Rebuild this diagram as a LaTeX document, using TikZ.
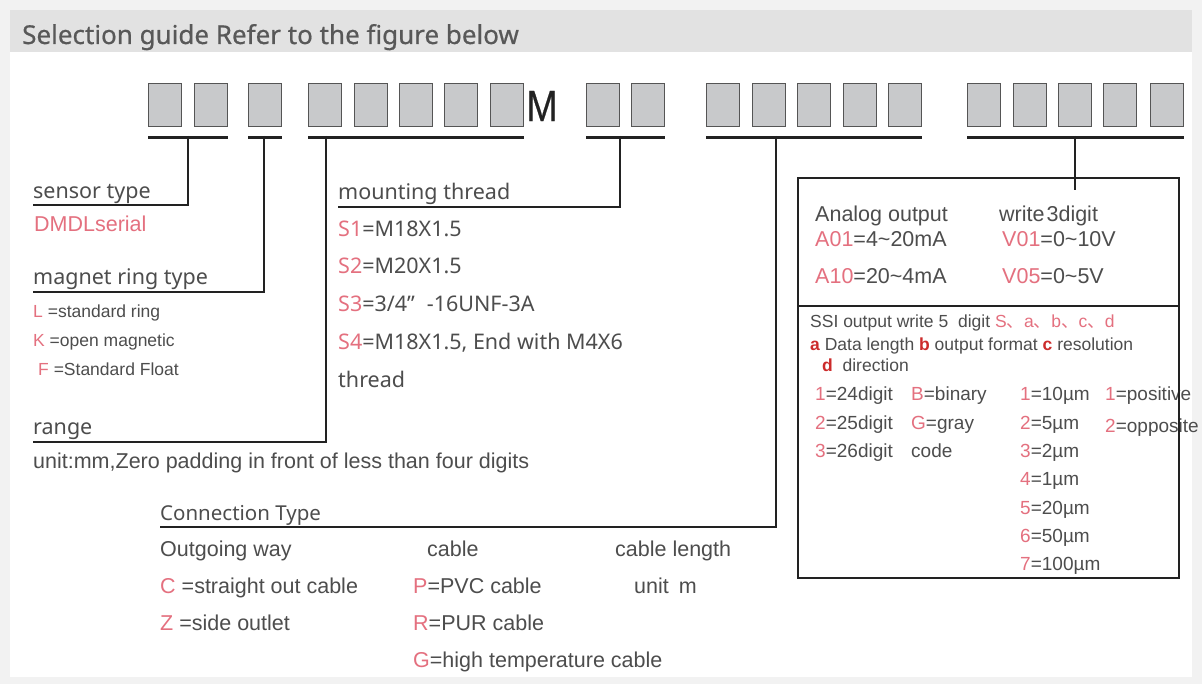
\documentclass[tikz,border=0pt]{standalone}
\usepackage{fontspec}
\setmainfont{Liberation Sans}
\newfontfamily\nfont{Noto Sans}
\newfontfamily\tfont[FakeBold=0.6]{Noto Sans}
\newfontfamily\mfont[FakeBold=0.5]{Liberation Sans}
\newfontfamily\cjkf{Noto Sans CJK SC}
\definecolor{txt}{HTML}{4D4D4D}
\definecolor{hdr}{HTML}{585858}
\definecolor{pk}{HTML}{E4707F}
\definecolor{rd}{HTML}{CC2B2B}
\definecolor{boxfill}{HTML}{C8C9CB}
\definecolor{boxline}{HTML}{555555}
\definecolor{ln}{HTML}{222222}
\definecolor{bandc}{HTML}{E2E2E2}
\definecolor{pagec}{HTML}{F2F2F2}
\begin{document}
\begin{tikzpicture}[x=1pt,y=-1pt,
  digit/.style={draw=boxline, fill=boxfill, line width=1.3pt, minimum width=33pt, minimum height=43pt, inner sep=0pt, anchor=north west},
  bar/.style={draw=ln, line width=2.6pt},
  wire/.style={draw=ln, line width=2.4pt},
  lab/.style={anchor=base west, inner sep=0pt, text=txt},
  ar/.style={lab, font=\fontsize{21.5}{24}\selectfont},
  arm/.style={lab, font=\fontsize{19}{22}\selectfont},
  ars/.style={lab, font=\fontsize{17.5}{20}\selectfont},
  ns/.style={lab, font=\nfont\fontsize{21.5}{24}\selectfont},
]
\useasboundingbox (0,0) rectangle (1202,684);
\fill[pagec] (0,0) rectangle (1202,684);
\fill[white] (10,52) rectangle (1192,677);
\fill[bandc] (10,10) rectangle (1192,52);
\node[lab, font=\tfont\fontsize{26}{28}\selectfont, text=hdr] (title) at (22,44) {Selection guide Refer to the figure below};

% code boxes
\foreach \n/\x in {1/148,2/194,3/248,4/308,5/353.5,6/399,7/444,8/490,9/586,10/631,11/706,12/751.5,13/797,14/842.5,15/888,16/967,17/1013,18/1058,19/1103,20/1150}
  \node[digit] (d\n) at (\x,83) {};
\node[inner sep=0pt, text=ln, font=\mfont\fontsize{44}{44}\selectfont] (M) at (542,106) {\scalebox{0.85}[1]{M}};

% underlines
\draw[bar] ([yshift=-10pt]d1.south west) -- ([yshift=-10pt]d2.south east);
\draw[bar] ([yshift=-10pt]d3.south west) -- ([yshift=-10pt]d3.south east);
\draw[bar] ([yshift=-10pt]d4.south west) -- ([yshift=-10pt]d8.south east);
\draw[bar] ([yshift=-10pt]d9.south west) -- ([yshift=-10pt]d10.south east);
\draw[bar] ([yshift=-10pt]d11.south west) -- ([yshift=-10pt]d15.south east);
\draw[bar] ([yshift=-10pt]d16.south west) -- ([yshift=-10pt]d20.south east);

% taps on the underlines
\coordinate (t1) at (188,136);
\coordinate (t2) at (264,136);
\coordinate (t3) at (326,136);
\coordinate (t4) at (620,136);
\coordinate (t5) at (776,136);
\coordinate (t6) at (1075,136);
\coordinate (t6e) at (1075,190);

% left column
\node[ns] (st) at (33,199) {sensor type};
\coordinate (st-ul) at (33,205);
\node[ar, text=pk] (dmdl) at (34,232) {DMDLserial};
\node[ns] (mr) at (33,285) {magnet ring type};
\coordinate (mr-ul) at (33,292);
\node[ars] (lL) at (33,318) {\textcolor{pk}{L} =standard ring};
\node[ars] (lK) at (33,347) {\textcolor{pk}{K} =open magnetic};
\node[ars] (lF) at (38,376) {\textcolor{pk}{F} =Standard Float};
\node[ns] (rg) at (33,435) {range};
\coordinate (rg-ul) at (33,442);
\node[ar] (unit) at (33,468) {unit:mm,Zero padding in front of less than four digits};

% middle column
\node[ns] (mt) at (338,200) {mounting thread};
\coordinate (mt-ul) at (338,207);
\node[ns] (s1) at (338,237) {\textcolor{pk}{S1}=M18X1.5};
\node[ns] (s2) at (338,274) {\textcolor{pk}{S2}=M20X1.5};
\node[ns] (s3) at (338,312) {\textcolor{pk}{S3}=3/4”\hspace{12pt}-16UNF-3A};
\node[ns] (s4) at (338,350) {\textcolor{pk}{S4}=M18X1.5, End with M4X6};
\node[ns] (s5) at (338,388) {thread};

% connection type
\node[ns, font=\nfont\fontsize{20.5}{24}\selectfont] (ct) at (160,520) {Connection Type};
\coordinate (ct-ul) at (160,527);
\node[ar] (ow) at (160,556) {Outgoing way};
\node[ar] (cb) at (427,556) {cable};
\node[ar] (cl) at (615,556) {cable length};
\node[ar] (oc) at (160,593) {\textcolor{pk}{C} =straight out cable};
\node[ar] (oz) at (160,630) {\textcolor{pk}{Z} =side outlet};
\node[ar] (cp) at (413,593) {\textcolor{pk}{P}=PVC cable};
\node[ar] (cr) at (413,630) {\textcolor{pk}{R}=PUR cable};
\node[ar] (cg) at (413,667) {\textcolor{pk}{G}=high temperature cable};
\node[ar] (um) at (634,593) {unit\hspace{10pt}m};

% right box texts
\node[ar] (ao) at (815,222) {Analog output};
\node[ar] (w3) at (999,222) {write\hspace{2pt}3digit};
\node[ar] (a01) at (815,247) {\textcolor{pk}{A01}=4\char`~20mA};
\node[ar] (v01) at (1002,247) {\textcolor{pk}{V01}=0\char`~10V};
\node[ar] (a10) at (815,284) {\textcolor{pk}{A10}=20\char`~4mA};
\node[ar] (v05) at (1002,284) {\textcolor{pk}{V05}=0\char`~5V};

\node[ars] (ssi) at (810,328) {SSI output write 5\ \ digit \textcolor{pk}{S{\cjkf 、}a{\cjkf 、}b{\cjkf 、}c{\cjkf 、}d}};
\node[ars] (abc) at (810,351) {\textcolor{rd}{\bfseries a} Data length \textcolor{rd}{\bfseries b} output format \textcolor{rd}{\bfseries c} resolution};
\node[ars] (dd) at (822,372) {\textcolor{rd}{\bfseries d}\ \ direction};
\node[arm] (r1) at (815,400) {\textcolor{pk}{1}=24digit};
\node[arm] (r2) at (815,429) {\textcolor{pk}{2}=25digit};
\node[arm] (r3) at (815,457) {\textcolor{pk}{3}=26digit};
\node[arm] (fb) at (911,400) {\textcolor{pk}{B}=binary};
\node[arm] (fg) at (911,429) {\textcolor{pk}{G}=gray};
\node[arm] (fc) at (911,457) {code};
\node[arm] (m1) at (1020,400) {\textcolor{pk}{1}=10µm};
\node[arm] (m2) at (1020,429) {\textcolor{pk}{2}=5µm};
\node[arm] (m3) at (1020,457) {\textcolor{pk}{3}=2µm};
\node[arm] (m4) at (1020,485) {\textcolor{pk}{4}=1µm};
\node[arm] (m5) at (1020,514) {\textcolor{pk}{5}=20µm};
\node[arm] (m6) at (1020,542) {\textcolor{pk}{6}=50µm};
\node[arm] (m7) at (1020,570) {\textcolor{pk}{7}=100µm};
\node[arm] (p1) at (1105,400) {\textcolor{pk}{1}=positive};
\node[arm] (p2) at (1105,432) {\textcolor{pk}{2}=opposite};

% right box
\node[draw=ln, line width=2.4pt, minimum width=381pt, minimum height=400pt, inner sep=0pt, anchor=north west] (rbox) at (797,177) {};
\draw[wire] (rbox.west |- 0,306) -- (rbox.east |- 0,306);

% connectors
\draw[wire] (t1) |- (st-ul);
\draw[wire] (t2) |- (mr-ul);
\draw[wire] (t3) |- (rg-ul);
\draw[wire] (t4) |- (mt-ul);
\draw[wire] (t5) |- (ct-ul);
\draw[wire] (t6) -- (t6e);
\end{tikzpicture}
\end{document}
